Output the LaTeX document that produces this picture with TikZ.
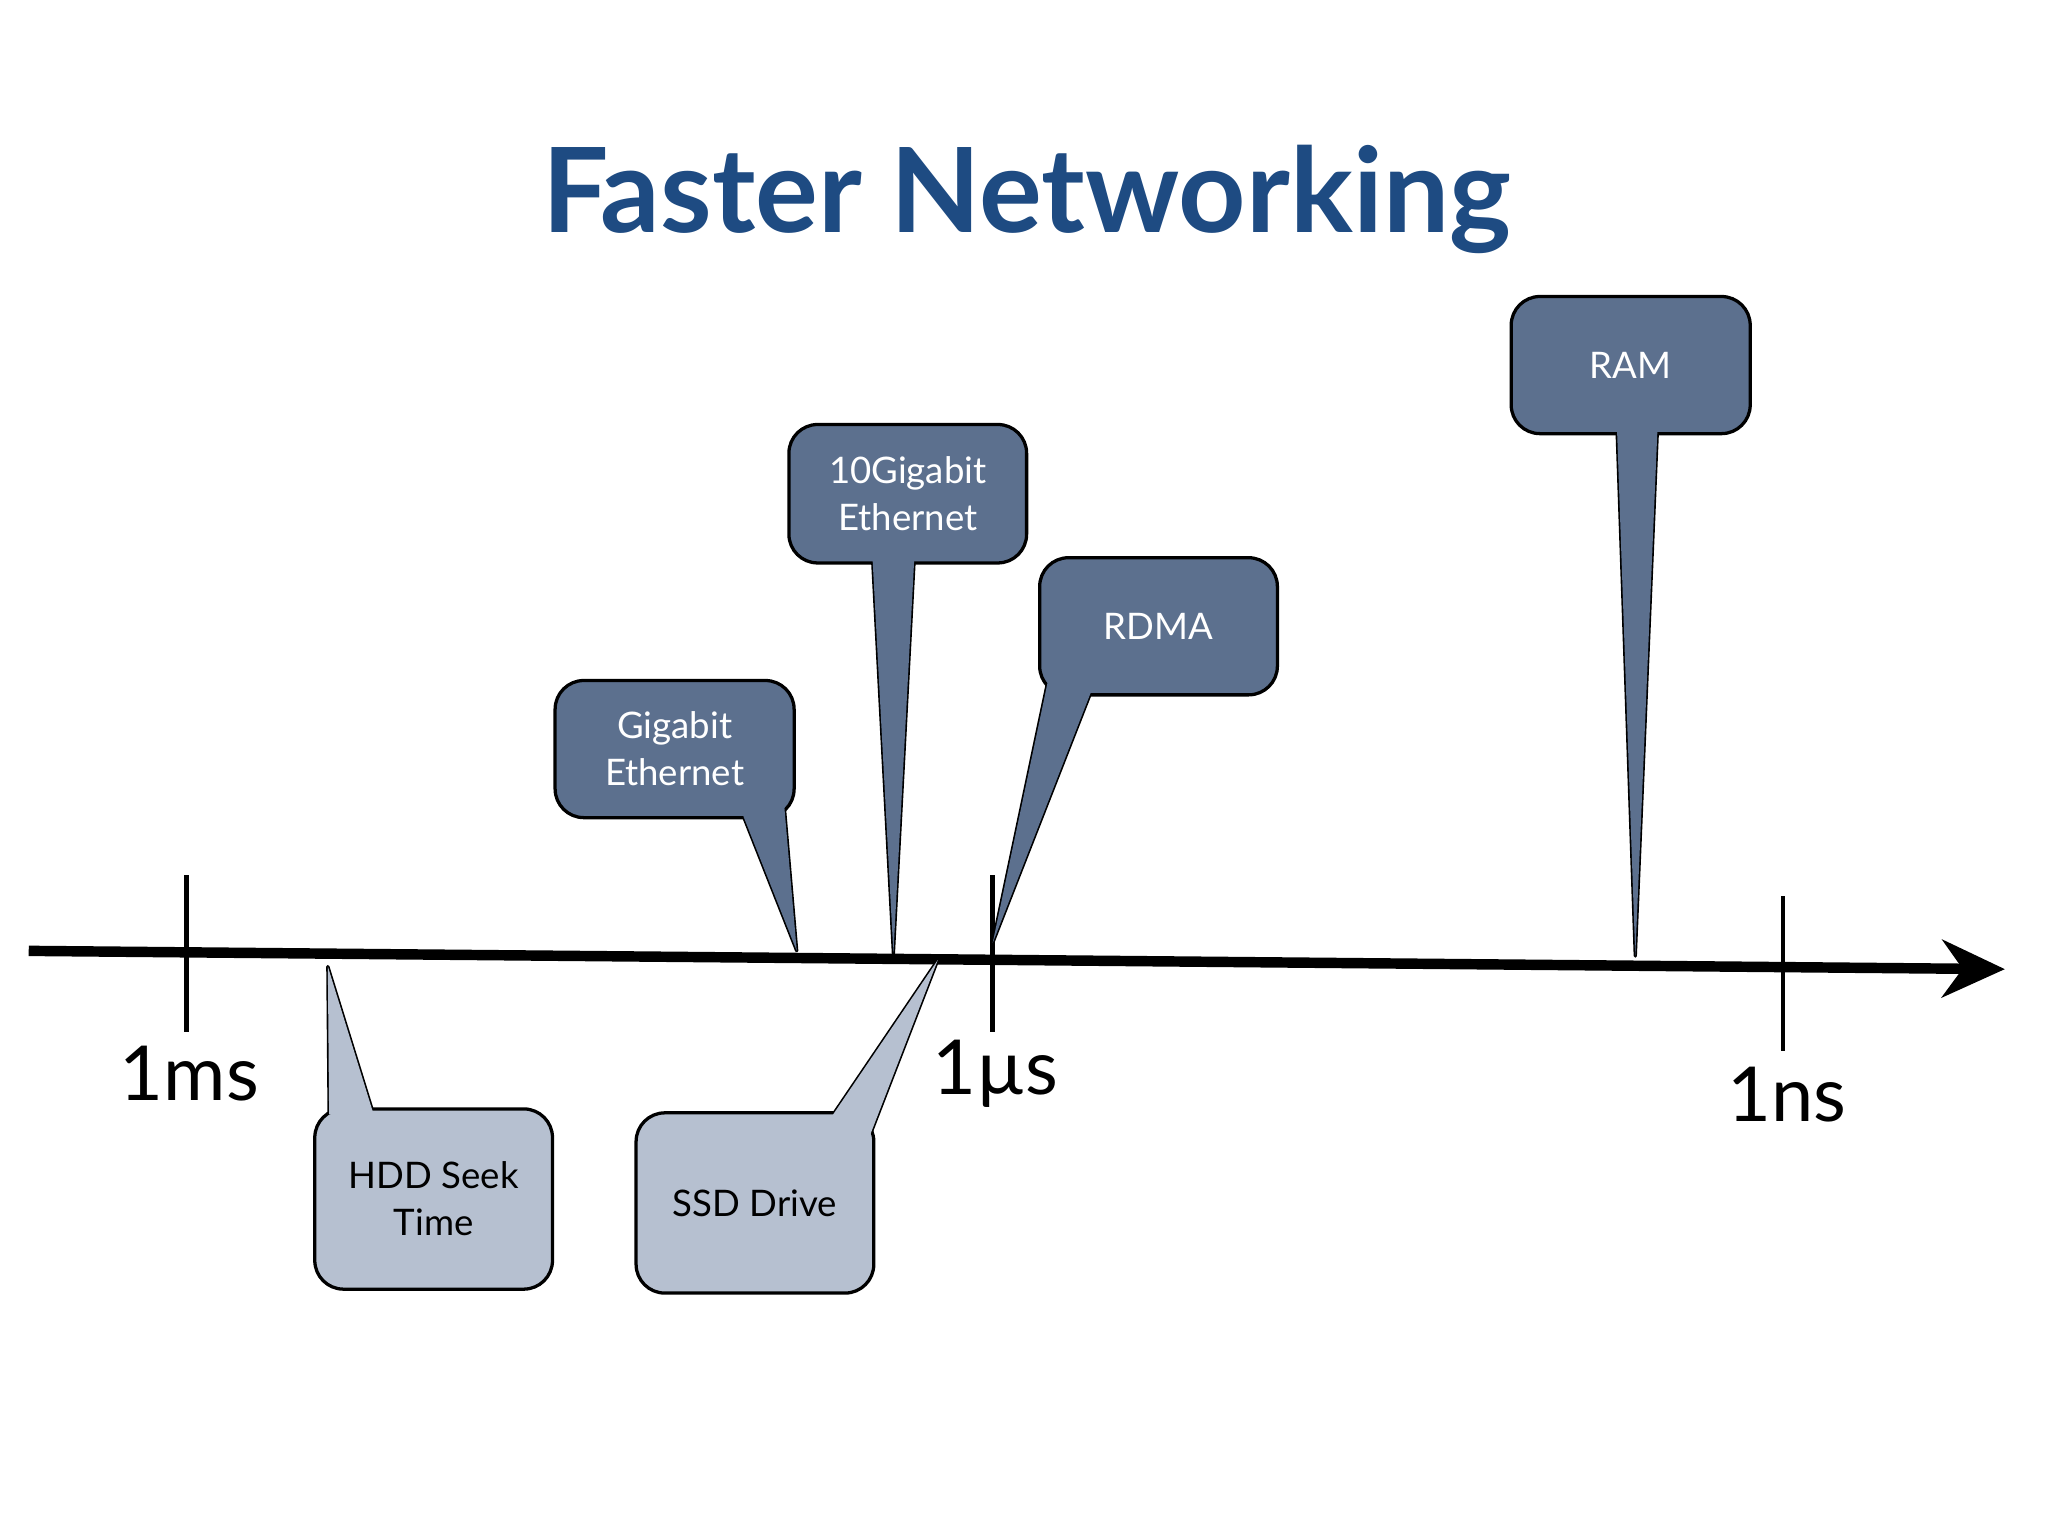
\documentclass[tikz,border=0pt]{standalone}
\usepackage{fontspec}
\setmainfont{Lato}
\usetikzlibrary{arrows.meta}
\definecolor{titleblue}{RGB}{30,75,130}
\definecolor{darkbox}{RGB}{92,112,142}
\definecolor{lightbox}{RGB}{182,192,208}
\begin{document}
\begin{tikzpicture}[x=1pt,y=-1pt,
  box/.style={draw=black,line width=2.5pt,rounded corners=22pt,minimum width=182pt,align=center,font=\fontsize{28}{36}\selectfont,inner sep=0pt},
  dark/.style={fill=darkbox,text=white},
  light/.style={fill=lightbox,text=black},
  tick/.style={line width=3.5pt},
  lab/.style={font=\fontsize{58}{60}\selectfont}]
\useasboundingbox (0,0) rectangle (1568,1176);
\fill[white] (0,0) rectangle (1568,1176);
\node[font=\fontsize{90}{94}\selectfont\bfseries,text=titleblue] (title) at (786,153) {Faster Networking};
% axis
\coordinate (a0) at (22,728);
\coordinate (a1) at (1535,742);
\draw[line width=8pt,-{Stealth[length=48pt,width=44pt]}] (a0) -- (a1);
\coordinate (t1a) at (143,670); \coordinate (t1b) at (143,790);
\coordinate (t2a) at (760,670); \coordinate (t2b) at (760,790);
\coordinate (t3a) at (1365,686); \coordinate (t3b) at (1365,805);
\draw[tick] (t1a)--(t1b); \draw[tick] (t2a)--(t2b); \draw[tick] (t3a)--(t3b);
\node[lab] (l1) at (145,822) {1ms};
\node[lab] (l2) at (762,822) {1µs};
\node[lab] (l3) at (1368,838) {1ns};
% callout macro
\newcommand\callout[8]{% name, style, x1,y1,x2,y2, tail path, text
  \filldraw[#2,line width=2.5pt,line join=round] #7;
  \node[box,#2,minimum width=#5pt-#3pt,minimum height=#6pt-#4pt] (#1) at ({(#3+#5)/2},{(#4+#6)/2}) {#8};
  \fill[#2] #7;
}
\callout{gig}{dark}{425}{521}{608}{626}{(568,622)--(600,612)--(610,728)--cycle}{Gigabit\\Ethernet}
\callout{tengig}{dark}{604}{325}{786}{431}{(668,427)--(700,427)--(684,730)--cycle}{10Gigabit\\Ethernet}
\callout{rdma}{dark}{796}{427}{978}{532}{(803,518)--(836,528)--(760,722)--cycle}{RDMA}
\callout{ram}{dark}{1157}{227}{1340}{332}{(1238,328)--(1269,328)--(1252,732)--cycle}{RAM}
\callout{hdd}{light}{241}{849}{423}{987}{(252,856)--(252,853)--(286,853)--(251,740)--cycle}{HDD Seek\\Time}
\callout{ssd}{light}{487}{852}{669}{990}{(636,856)--(665,872)--(718,735)--cycle}{SSD Drive}
\end{tikzpicture}
\end{document}
